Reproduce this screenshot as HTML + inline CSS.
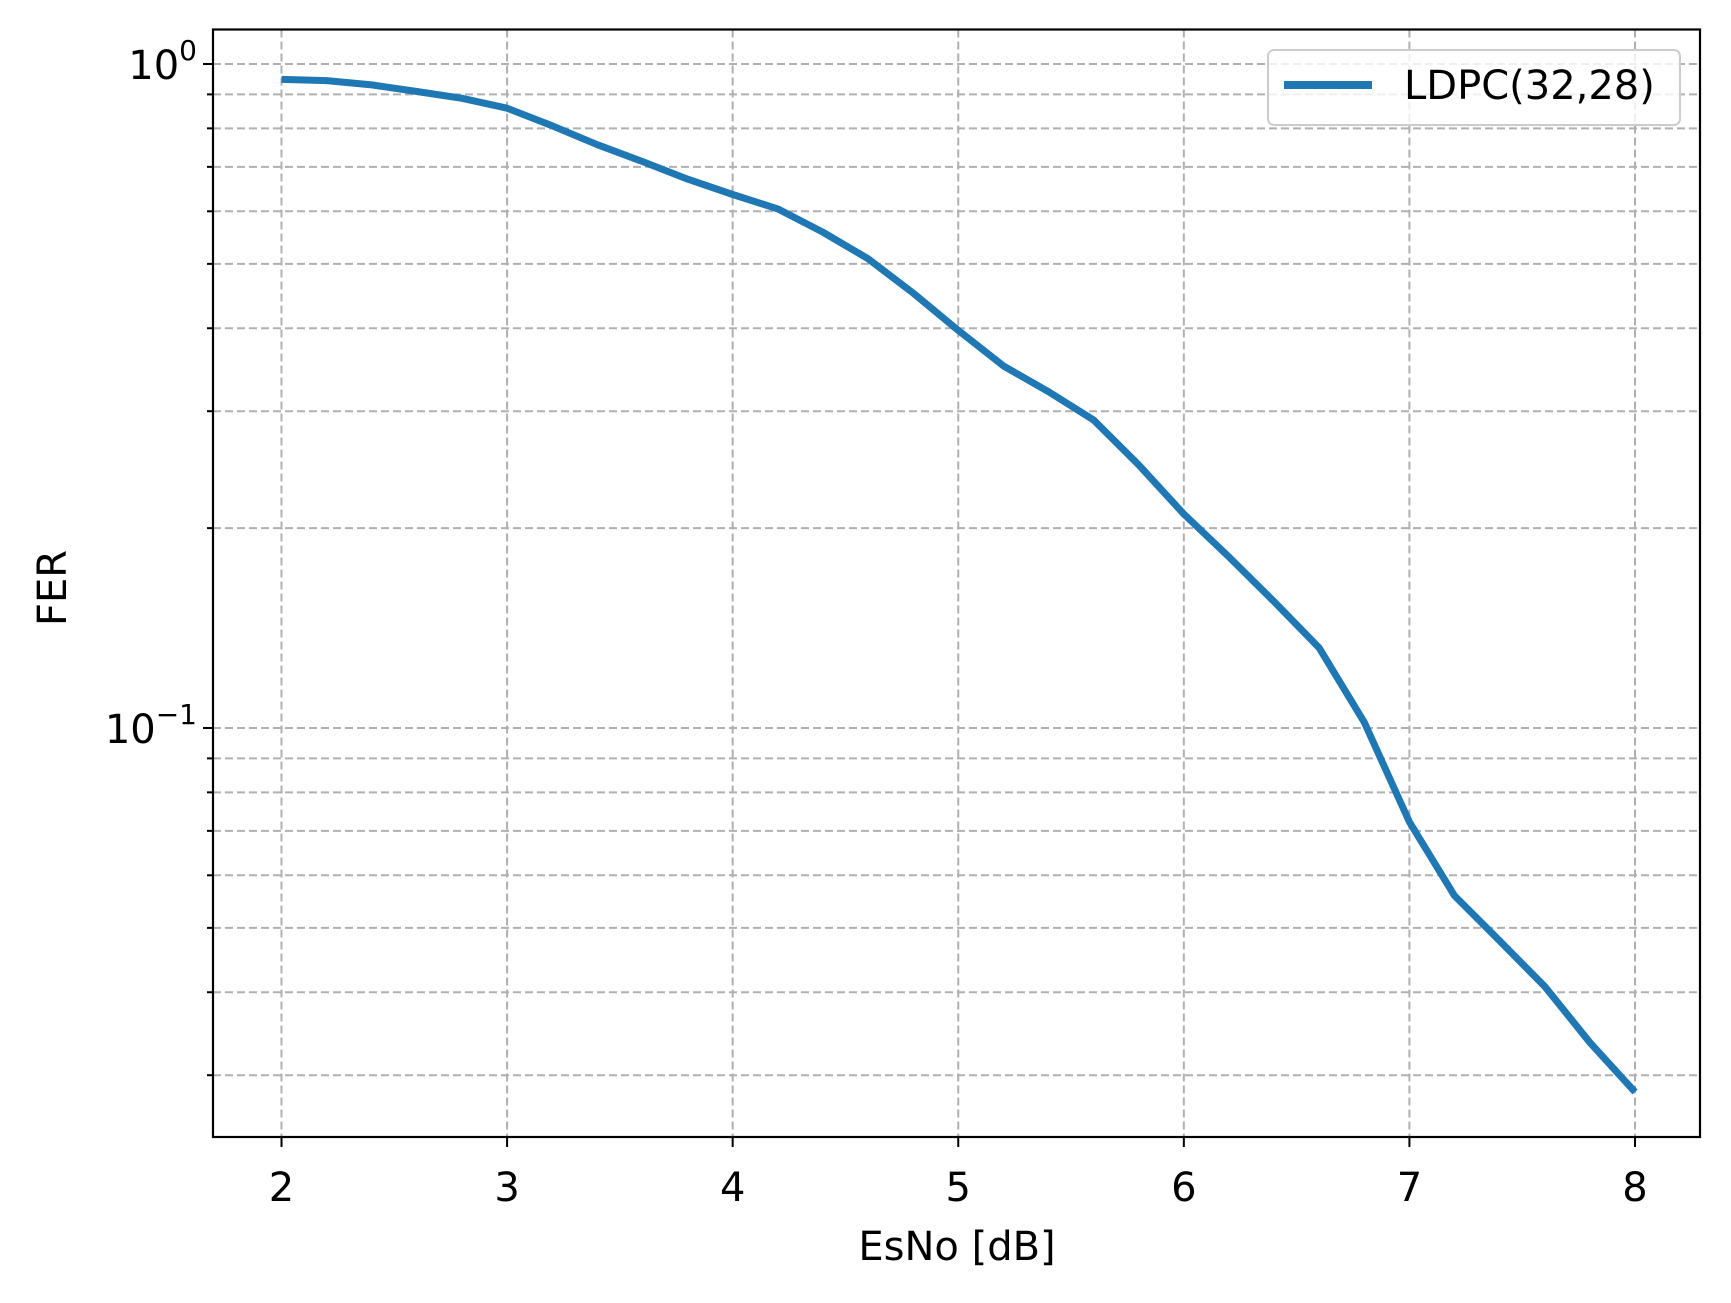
<!DOCTYPE html>
<html><head><meta charset="utf-8"><style>
body{margin:0;background:#fff}
svg text{font-family:"DejaVu Sans","Liberation Sans",sans-serif;fill:#000}
</style></head><body>
<svg id="chart" width="1731" height="1298" viewBox="0 0 1731 1298" xmlns="http://www.w3.org/2000/svg">
<rect width="1731" height="1298" fill="#fff"/>
<g id="grid"></g>
<g id="series"></g>
<rect x="213" y="29.5" width="1487" height="1107.5" fill="none" stroke="#000" stroke-width="2.2"/>
<g id="ticks"></g>
<text x="957" y="1260" font-size="40" text-anchor="middle">EsNo [dB]</text>
<text transform="translate(66,588) rotate(-90)" font-size="40" text-anchor="middle">FER</text>
<g>
<rect x="1268" y="50" width="412" height="75" rx="6" fill="#fff" fill-opacity="0.8" stroke="#ccc" stroke-width="2"/>
<line x1="1284" y1="85" x2="1372" y2="85" stroke="#1f77b4" stroke-width="8"/>
<text x="1404" y="99" font-size="40">LDPC(32,28)</text>
</g>
</svg>
<script>
const esno = [2.0,2.2,2.4,2.6,2.8,3.0,3.2,3.4,3.6,3.8,4.0,4.2,4.4,4.6,4.8,5.0,5.2,5.4,5.6,5.8,6.0,6.2,6.4,6.6,6.8,7.0,7.2,7.4,7.6,7.8,8.0];
const fer = [0.948,0.944,0.93,0.909,0.888,0.858,0.807,0.756,0.713,0.671,0.636,0.605,0.558,0.509,0.452,0.397,0.351,0.321,0.291,0.249,0.210,0.181,0.155,0.132,0.102,0.0722,0.0559,0.0478,0.0408,0.0336,0.0283];
const xTicks = [2,3,4,5,6,7,8];
const yMajor = [1,0.1];
const yMinor = [0.9,0.8,0.7,0.6,0.5,0.4,0.3,0.2,0.09,0.08,0.07,0.06,0.05,0.04,0.03];

const NS='http://www.w3.org/2000/svg';
const L=213,R=1700,T=29.5,B=1137;
function xs(v){return 281.5+(v-2)*(1635-281.5)/6;}
function ys(v){return 64-Math.log10(v)*664;}
function mk(tag,attrs,parent){const e=document.createElementNS(NS,tag);for(const k in attrs)e.setAttribute(k,attrs[k]);parent.appendChild(e);return e;}
const grid=document.getElementById('grid'),ticks=document.getElementById('ticks'),series=document.getElementById('series');
xTicks.forEach(v=>{
  const x=xs(v);
  const g=mk('line',{x1:x,y1:T,x2:x,y2:B,stroke:'#b0b0b0','stroke-width':2,'stroke-dasharray':'8,4'},grid);
  
  
  const t=mk('line',{x1:x,y1:B,x2:x,y2:B+10,stroke:'#000','stroke-width':2},ticks);
  
  
  const l=mk('text',{x:x,y:1201,'font-size':40,'text-anchor':'middle'},ticks);
  l.textContent=String(v);
  
  
});
yMajor.concat(yMinor).forEach(v=>{
  const y=ys(v); const major=yMajor.includes(v);
  const g=mk('line',{x1:L,y1:y,x2:R,y2:y,stroke:'#b0b0b0','stroke-width':2,'stroke-dasharray':'8,4'},grid);
  
  
  const t=mk('line',{x1:L-(major?10:6),y1:y,x2:L,y2:y,stroke:'#000','stroke-width':2},ticks);
  
  
});
yMajor.forEach(v=>{
  const e=Math.round(Math.log10(v));
  const l=mk('text',{x:197,y:ys(v)+15,'font-size':40,'text-anchor':'end'},ticks);
  l.innerHTML='10<tspan dy="-19" font-size="28">'+(e===0?'0':'\u22121')+'</tspan>';
  
  
});
const pts=esno.map((x,i)=>xs(x).toFixed(1)+','+ys(fer[i]).toFixed(1)).join(' ');
const pl=mk('polyline',{points:pts,fill:'none',stroke:'#1f77b4','stroke-width':7,'stroke-linejoin':'round'},series);


</script>
</body></html>
